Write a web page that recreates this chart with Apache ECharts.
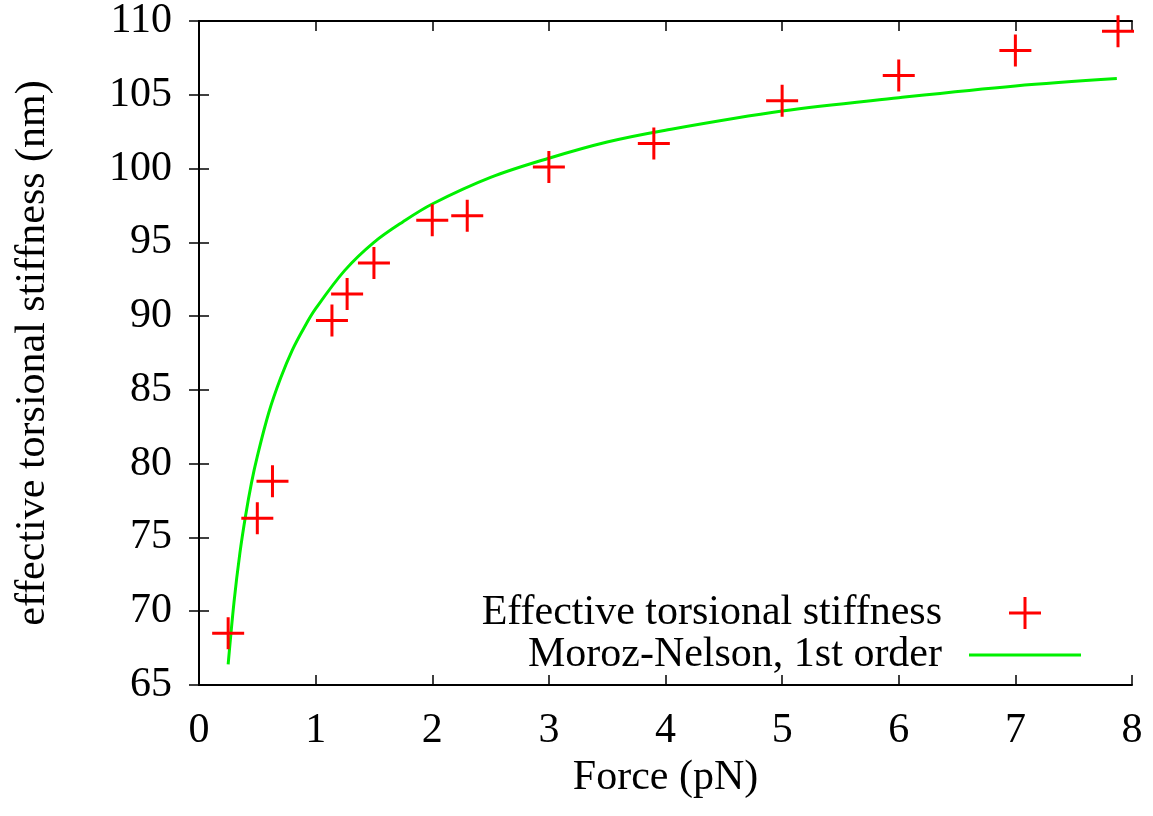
<!DOCTYPE html>
<html>
<head>
<meta charset="utf-8">
<script src="https://cdn.jsdelivr.net/npm/echarts@6/dist/echarts.min.js"></script>
<style>
  html, body { margin: 0; padding: 0; background: #fff; }
  #chart { width: 1153px; height: 816px; }
</style>
</head>
<body>
<div id="chart"></div>
<script>
// measured torsional stiffness vs force + Moroz-Nelson 1st order curve
const forceMeas = [0.25, 0.50, 0.63, 1.14, 1.27, 1.50, 2.00, 2.30, 3.00, 3.90, 5.00, 6.00, 7.00, 7.88];
const stiffMeas = [68.5, 76.3, 78.8, 89.7, 91.5, 93.6, 96.5, 96.8, 100.1, 101.7, 104.6, 106.3, 108.0, 109.3];

const forceFit = [0.25, 0.3, 0.35, 0.4, 0.45, 0.5, 0.6, 0.7, 0.8, 0.9, 1.0, 1.25, 1.5, 1.75, 2.0, 2.5, 3.0, 3.5, 4.0, 5.0, 6.0, 7.0, 7.87];
const stiffFit = [66.4, 70.6, 73.9, 76.5, 78.7, 80.5, 83.5, 85.8, 87.7, 89.2, 90.5, 93.1, 95.0, 96.4, 97.6, 99.4, 100.7, 101.8, 102.6, 103.9, 104.8, 105.6, 106.1];

const NAME_MEAS = "Effective torsional stiffness";
const NAME_FIT  = "Moroz-Nelson, 1st order";
const FONT = "Liberation Serif";
const RED = "#ff0000", GREEN = "#00f000";
const PLUS = "path://M14.5,0h3v14.5h14.5v3h-14.5v14.5h-3v-14.5h-14.5v-3h14.5z";
const DASH = "path://M0,0h112v3h-112z";

const chart = echarts.init(document.getElementById("chart"), null, { renderer: "canvas" });

const tick = { show: true, inside: true, length: 10, lineStyle: { color: "#000", width: 1.5 } };
const line = { show: true, lineStyle: { color: "#000", width: 2 } };

chart.setOption({
  backgroundColor: "#fff",
  animation: false,
  textStyle: { fontFamily: FONT, color: "#000" },
  grid: { left: 199, right: 21, top: 20, bottom: 131 },
  xAxis: [
    { type: "value", min: 0, max: 8, interval: 1, position: "bottom",
      name: "Force (pN)", nameLocation: "middle", nameGap: 65,
      nameTextStyle: { fontFamily: FONT, fontSize: 42, color: "#000" },
      axisLine: line, axisTick: tick, splitLine: { show: false },
      axisLabel: { fontFamily: FONT, fontSize: 42, color: "#000", margin: 25 } },
    { type: "value", min: 0, max: 8, interval: 1, position: "top",
      axisLine: line, axisTick: tick, splitLine: { show: false }, axisLabel: { show: false } },
  ],
  yAxis: [
    { type: "value", min: 65, max: 110, interval: 5, position: "left",
      name: "effective torsional stiffness (nm)", nameLocation: "middle", nameGap: 145,
      nameTextStyle: { fontFamily: FONT, fontSize: 42, color: "#000" },
      axisLine: line, axisTick: tick, splitLine: { show: false },
      axisLabel: { fontFamily: FONT, fontSize: 42, color: "#000", margin: 27 } },
    { type: "value", min: 65, max: 110, interval: 5, position: "right",
      axisLine: line, axisTick: tick, splitLine: { show: false }, axisLabel: { show: false } },
  ],
  legend: {
    data: [{ name: NAME_MEAS }, { name: NAME_FIT, icon: DASH }],
    orient: "vertical", align: "right",
    right: 72, top: 592, padding: 0,
    itemWidth: 112, itemHeight: 32, itemGap: 0,
    symbolKeepAspect: true,
    textStyle: { fontFamily: FONT, fontSize: 42, lineHeight: 32, color: "#000", padding: [0, 22, 0, 0] },
    selectedMode: false,
  },
  series: [
    { name: NAME_MEAS, type: "scatter", xAxisIndex: 0, yAxisIndex: 0,
      data: forceMeas.map((f, i) => [f, stiffMeas[i]]),
      symbol: PLUS, symbolSize: 32, symbolKeepAspect: true, clip: false,
      itemStyle: { color: RED, opacity: 1 }, z: 3 },
    { name: NAME_FIT, type: "line", xAxisIndex: 0, yAxisIndex: 0,
      data: forceFit.map((f, i) => [f, stiffFit[i]]),
      symbol: "none", showSymbol: false, smooth: 0.35,
      itemStyle: { color: GREEN },
      lineStyle: { color: GREEN, width: 3 }, z: 2 },
  ],
});
</script>
</body>
</html>
